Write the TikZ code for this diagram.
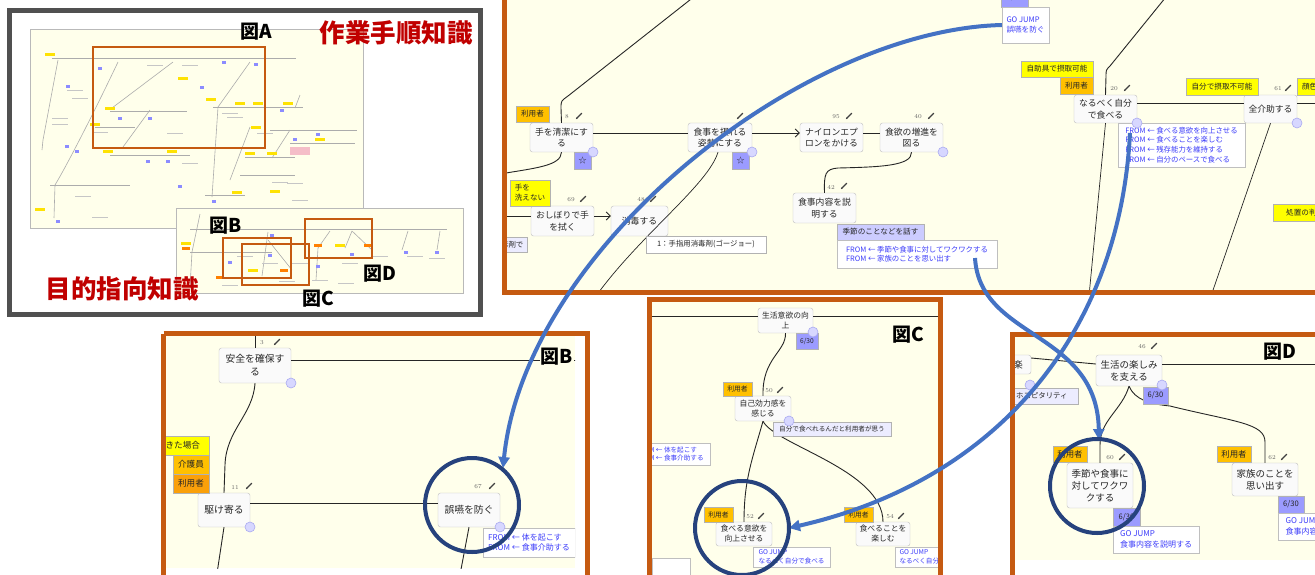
\documentclass[tikz,border=0pt]{standalone}
\usepackage{fontspec}
\newfontfamily\jp{Noto Sans CJK JP}
\usetikzlibrary{arrows.meta}
\definecolor{panelor}{RGB}{197,90,17}
\definecolor{tlgray}{RGB}{80,80,80}
\definecolor{bgy}{RGB}{255,255,235}
\definecolor{tagyel}{RGB}{255,255,0}
\definecolor{tagor}{RGB}{255,192,0}
\definecolor{tagor2}{RGB}{250,160,10}
\definecolor{lav}{RGB}{204,204,255}
\definecolor{lavl}{RGB}{236,236,255}
\definecolor{bluebox}{RGB}{155,155,255}
\definecolor{fromblue}{RGB}{60,60,250}
\definecolor{arrowblue}{RGB}{68,114,196}
\definecolor{navy}{RGB}{38,66,125}
\definecolor{redlbl}{RGB}{192,0,0}
\definecolor{knobf}{RGB}{215,215,255}
\definecolor{knobd}{RGB}{170,170,240}
\definecolor{pinkbox}{RGB}{245,190,200}
\newcommand\mybox[7]{\node[#1, minimum width={((#5)-(#3))*1pt}, minimum height={((#6)-(#4))*1pt}] (#2) at ({((#3)+(#5))/2},{((#4)+(#6))/2}) {#7};}
\newcommand\knob[1]{\draw[draw=knobd, fill=knobf, line width=0.6pt] #1 circle (5);}
\newcommand\numpen[4]{\node[num] at (#1,#2) {#3}; \pic at ({#1+#4},{#2-1}) {pencil};}
\tikzset{
 gbase/.style={draw=gray!50, fill=gray!4, rounded corners=2.5pt, align=center, inner sep=0.5pt, text=black!85},
 gA/.style={gbase, font=\jp\fontsize{8.8}{11.5}\selectfont},
 gB/.style={gbase, font=\jp\fontsize{9.8}{13}\selectfont},
 gC/.style={gbase, font=\jp\fontsize{7.8}{10}\selectfont},
 gD/.style={gbase, font=\jp\fontsize{9.5}{12}\selectfont},
 tg/.style={draw=gray!60, inner sep=0.5pt, align=center, text=black!85, font=\jp\fontsize{#1}{1.2\dimexpr#1pt\relax}\selectfont},
 tg/.default=7.6,
 bb/.style={tg=#1, fill=bluebox},
 bb/.default=6.8,
 fromb/.style={draw=gray!50, fill=white, inner sep=1.5pt, align=left, text=fromblue, font=\jp\fontsize{#1}{1.3\dimexpr#1pt\relax}\selectfont},
 fromb/.default=7.4,
 num/.style={font=\fontsize{6}{6}\selectfont, text=black!60, inner sep=0pt},
 conn/.style={draw=black!85, line width=0.9pt},
 thin/.style={draw=black!85, line width=0.7pt},
 barrow/.style={draw=arrowblue, line width=4pt, -{Triangle[length=11pt,width=11pt]}},
 ring/.style={draw=navy, line width=4pt},
 fig/.style={font=\jp\bfseries\fontsize{19}{19}\selectfont, text=black, inner sep=0pt},
 bigred/.style={font=\jp\bfseries\fontsize{25.5}{26}\selectfont, text=redlbl, inner sep=0pt},
 pencil/.pic={\draw[black!75, line width=1.3pt] (-1.8,1.8)--(2.8,-2.8); \fill[black!75] (-3.2,3.2)--(-2.6,1.2)--(-1.2,2.6)--cycle;}
}
\begin{document}
\begin{tikzpicture}[x=1pt,y=-1pt]
\useasboundingbox (0,0) rectangle (1315,574);
\fill[white] (0,0) rectangle (1315,574);

%================ top-left overview panel ================
\fill[white] (9.5,10.5) rectangle (480.5,314.5);
\draw[gray!55, fill=bgy, line width=0.6pt] (30,29) rectangle (363,228);
\begin{scope}[gray!65, line width=0.6pt]
 \draw (52,58)--(296,58);
 \draw (58,60)--(43,140)--(42,150);
 \draw (118,62) .. controls (100,100) and (70,160) .. (55,185)--(54,218);
 \draw (173,62)--(112,108);
 \draw (250,62)--(218,107)--(212,197);
 \draw (250,127)--(230,180);
 \draw (150,110)--(123,147);
 \draw (110,111)--(187,111);
 \draw (95,127)--(135,127);
 \draw (213,107)--(303,107);
 \draw (270,130)--(357,130);
 \draw (290,143)--(355,143);
 \draw (290,130)--(272,158);
 \draw (110,155)--(190,155);
 \draw (245,157)--(295,157);
 \draw (240,175)--(295,175);
 \draw (50,185)--(130,185);
 \draw (205,195)--(245,195);
 \draw (295,108)--(300,95);
\end{scope}
\foreach \x/\y in {50/54,183/78,211/99,240/103,258/103,288/103,110/108,95/124,108/151,172/151,250/153,272/153,256/127,275/191,40/209,237/192,320/139}
 \fill[yellow!85!orange] (\x-5,\y-1.5) rectangle (\x+5,\y+1.5);
\foreach \x/\y in {100/68,68/86,67/146,77/151,120/118,150/118,202/87,224/62,256/64,282/110,295/139,148/161,168/161,180/186,214/201,58/221,318/134}
 \fill[blue!45] (\x-2,\y-1.5) rectangle (\x+2,\y+1.5);
\foreach \x/\y in {75/90,80/98,60/118,60/124,155/65,190/65,100/132,175/133,230/113,235/117,190/163,280/182,295/183,300/200,83/196,100/217,265/133,245/213,196/211}
 \draw[gray!45, line width=0.5pt] (\x-8,\y) -- (\x+8,\y);
\fill[pinkbox] (290,147) rectangle (310,155);
\draw[gray!55, fill=bgy, line width=0.6pt] (176,208) rectangle (463,293);
\begin{scope}[gray!65, line width=0.6pt]
 \draw (190,229)--(447,229);
 \draw (190,252)--(272,252);
 \draw (200,214)--(192,252)--(190,287);
 \draw (268,232)--(262,276);
 \draw (268,240)--(292,270);
 \draw (330,231)--(318,248)--(316,280);
 \draw (352,231)--(345,248);
 \draw (352,231)--(372,250);
 \draw (408,231)--(402,250);
 \draw (440,231)--(437,250);
\end{scope}
\foreach \x/\y in {186/243,340/245,253/270}
 \fill[yellow!85!orange] (\x-5,\y-1.5) rectangle (\x+5,\y+1.5);
\foreach \x/\y in {186/248,220/277,318/245,368/245,284/270}
 \fill[orange] (\x-4,\y-1.5) rectangle (\x+4,\y+1.5);
\foreach \x/\y in {272/235,270/255,318/266,352/254,406/252,437/252,230/262}
 \fill[blue!45] (\x-2,\y-1.5) rectangle (\x+2,\y+1.5);
\foreach \x/\y in {245/256,270/263,300/263,350/263,380/256,415/256,437/258,287/281,320/280,230/285,346/283}
 \draw[gray!45, line width=0.5pt] (\x-8,\y) -- (\x+8,\y);
\begin{scope}[panelor, line width=2.6pt]
 \draw (93,47) rectangle (265,148);
 \draw (223,238) rectangle (291,278);
 \draw (242,244) rectangle (309,285);
 \draw (305,219) rectangle (372,258);
\end{scope}
\node[fig] (tA) at (256,32) {図A};
\node[fig] (tB) at (226,226) {図B};
\node[fig] (tC) at (318,299) {図C};
\node[fig] (tD) at (380,274) {図D};
\node[bigred] (t1) at (396,33) {作業手順知識};
\node[bigred] (t2) at (122,289) {目的指向知識};
\draw[tlgray, line width=5pt] (9.5,10.5) rectangle (480.5,314.5);

%================ panel A ================
\begin{scope}
\clip (504.5,-10) rectangle (1330,292.5);
\fill[bgy] (504.5,-10) rectangle (1330,292.5);
\mybox{gA}{n8}{530}{123}{593}{152}{手を清潔にす\\る}
\mybox{gA}{n9}{688}{123}{752}{152}{食事を摂れる\\姿勢にする}
\mybox{gA}{n95}{800}{123}{863}{152}{ナイロンエプ\\ロンをかける}
\mybox{gA}{n40}{880}{123}{943}{152}{食欲の増進を\\図る}
\mybox{gA}{n42}{793}{193}{856}{223}{食事内容を説\\明する}
\mybox{gA}{n69}{531}{206}{594}{236}{おしぼりで手\\を拭く}
\mybox{gA}{n48}{611}{206}{668}{236}{消毒する}
\mybox{gA}{n20}{1074}{95}{1137}{123}{なるべく自分\\で食べる}
\mybox{gA}{n61}{1244}{95}{1297}{123}{全介助する}
\coordinate (a1) at (700,-8);
\coordinate (a2) at (500,174);
\coordinate (a3) at (500,216);
\coordinate (a4) at (596,296);
\coordinate (a5) at (1170,-8);
\coordinate (a6) at (1330,103);
\coordinate (a7) at (1089,296);
\coordinate (a8) at (1211,296);
\draw[conn] (n8.north) -- (561,108) .. controls (561,101) .. (568,96) -- (a1);
\draw[conn] ([yshift=4.5pt]n8.east) -- ([yshift=4.5pt]n9.west);
\draw[conn, -{Straight Barb[length=4pt,width=8pt]}] ([yshift=4.5pt]n9.east) -- ([yshift=4.5pt]n95.west);
\draw[conn] ([yshift=4.5pt]n95.east) -- ([yshift=4.5pt]n40.west);
\draw[conn] (n40.south) .. controls (912,166) and (880,167) .. (838,168) .. controls (825,169) and (824,174) .. (n42.north);
\draw[conn] (n8.south) .. controls (561,166) and (535,168) .. (a2);
\draw[conn] (a3) -- ([yshift=5pt]n69.west);
\draw[conn, -{Straight Barb[length=4pt,width=8pt]}] ([yshift=5pt]n69.east) -- ([yshift=5pt]n48.west);
\draw[thin] ([xshift=-2pt]n9.south) .. controls (708,185) and (640,235) .. (a4);
\draw[conn] (n20.north) -- (1106,76) .. controls (1106,70) .. (1110,66) -- (a5);
\draw[conn] ([yshift=6pt]n20.east) -- ([yshift=6pt]n61.west);
\draw[conn] ([yshift=6pt]n61.east) -- (a6);
\draw[thin] (n20.south) -- (a7);
\draw[thin] (n61.south) -- (a8);
% tags and boxes
\mybox{tg,fill=tagor}{ta1}{516}{106}{549}{122}{利用者}
\mybox{tg,fill=tagyel,align=left}{ta2}{510}{180}{550}{206}{手を\\[1pt]洗えない}
\mybox{tg,fill=tagyel}{ta3}{1021}{61}{1093}{77}{自助具で摂取可能}
\mybox{tg,fill=tagor}{ta4}{1060}{77}{1093}{94}{利用者}
\mybox{tg,fill=tagyel}{ta5}{1186}{78}{1258}{95}{自分で摂取不可能}
\mybox{tg,fill=tagyel}{ta6}{1297}{78}{1345}{95}{顔色の変化}
\mybox{tg,fill=tagyel}{ta7}{1273}{204}{1345}{221}{処置の判断が}
\mybox{bb=8}{st1}{574}{152}{591}{169}{☆}
\mybox{bb=8}{st2}{732}{152}{749}{169}{☆}
\mybox{tg=7.6,fill=lav}{ka}{837}{224}{924}{240}{季節のことなどを話す}
\mybox{fromb}{fa}{837}{240}{997}{268}{FROM ← 季節や食事に対してワクワクする\\FROM ← 家族のことを思い出す}
\mybox{tg=7.4,fill=white}{sh}{646}{236}{766}{253}{1：手指用消毒剤(ゴージョー)}
\mybox{tg=7.4,fill=lavl}{zd}{490}{237}{527}{252}{消毒剤で}
\mybox{bb}{gjt}{1001}{-12}{1028}{7}{6/30}
\mybox{fromb=7.6}{gjA}{1002}{7}{1049}{43}{GO JUMP\\誤嚥を防ぐ}
\mybox{fromb}{fb}{1118}{123}{1245}{167}{FROM ← 食べる意欲を向上させる\\FROM ← 食べることを楽しむ\\FROM ← 残存能力を維持する\\FROM ← 自分のペースで食べる}
\knob{(593,152)} \knob{(752,152)} \knob{(943,152)} \knob{(1137,123)} \knob{(1297,123)}
\numpen{567}{117}{8}{12}
\pic at (740,116) {pencil};
\numpen{836}{117}{95}{13}
\numpen{918}{117}{40}{13}
\numpen{831}{187}{42}{13}
\numpen{571}{200}{69}{12}
\numpen{641}{200}{48}{12}
\numpen{1114}{89}{20}{13}
\numpen{1278}{89}{61}{10}
\end{scope}
\draw[panelor, line width=5pt] (504.5,-10) rectangle (1330,292.5);

%================ panel B ================
\fill[white] (163.5,333.5) rectangle (587.5,590);
\begin{scope}
\clip (166,336) rectangle (575,568);
\fill[bgy] (166,336) rectangle (575,568);
\mybox{gB}{n3}{219}{348}{291}{383}{安全を確保す\\る}
\mybox{gB}{n11}{198}{493}{250}{527}{駆け寄る}
\mybox{gB}{n67}{438}{493}{500}{527}{誤嚥を防ぐ}
\coordinate (b1) at (255,330);
\coordinate (b2) at (590,360);
\coordinate (b3) at (216,580);
\coordinate (b4) at (459,580);
\draw[conn] (b1) -- (n3.north);
\draw[conn] ([yshift=5.5pt]n3.east) -- (b2);
\draw[conn] (n3.south) .. controls (253,415) and (226,430) .. (225,465) -- (n11.north);
\draw[conn] ([yshift=7pt]n11.east) -- ([yshift=7pt]n67.west);
\draw[conn] (n11.south) -- (b3);
\draw[conn] (n67.south) -- (b4);
\mybox{tg=8.6,fill=tagyel}{tb1}{148}{436}{209}{455}{起きた場合}
\mybox{tg=8.6,fill=tagor}{tb2}{173}{455}{209}{474}{介護員}
\mybox{tg=8.6,fill=tagor2}{tb3}{173}{474}{209}{493}{利用者}
\mybox{fromb=8}{fbb}{483}{528}{575}{557}{FROM ← 体を起こす\\FROM ← 食事介助する}
\knob{(291,383)} \knob{(250,527)} \knob{(500,527)}
\numpen{262}{343}{3}{15}
\numpen{235}{487}{11}{14}
\numpen{478}{487}{67}{14}
\node[fig, fill=bgy, inner sep=1pt] (lb) at (557,357) {図B};
\end{scope}
\draw[panelor, line width=5pt] (163.5,333.5) -- (163.5,590) (163.5,333.5) -- (587.5,333.5) -- (587.5,590);

%================ panel C ================
\begin{scope}
\clip (649.5,299) rectangle (940,590);
\fill[bgy] (649.5,299) rectangle (940,590);
\mybox{gC}{nL}{758}{308}{813}{333}{生活意欲の向\\上}
\mybox{gC}{n50}{735}{396}{791}{421}{自己効力感を\\感じる}
\mybox{gC}{n52}{716}{522}{772}{546}{食べる意欲を\\向上させる}
\mybox{gC}{n54}{856}{522}{910}{546}{食べることを\\楽しむ}
\coordinate (c1) at (645,316);
\coordinate (c2) at (945,316);
\draw[conn] (c1) -- ([yshift=4.5pt]nL.west);
\draw[conn] ([yshift=4.5pt]nL.east) -- (c2);
\draw[conn] (nL.south) .. controls (786,352) and (762,358) .. (n50.north);
\draw[conn] (n50.south) .. controls (752,460) and (744,480) .. (n52.north);
\draw[conn] (n50.south) .. controls (775,445) and (883,470) .. (n54.north);
\mybox{bb=6.6}{c630}{796}{333}{818}{349}{6/30}
\mybox{tg=6.6,fill=lavl}{cq}{773}{422}{891}{436}{自分で食べれるんだと利用者が思う}
\mybox{fromb=6.6}{cfb}{630}{443}{710}{465}{FROM ← 体を起こす\\FROM ← 食事介助する}
\mybox{fromb=6.6}{cg1}{753}{547}{830}{567}{GO JUMP\\なるべく自分で食べる}
\mybox{fromb=6.6,align=left}{cg2}{895}{547}{970}{567}{GO JUMP\\なるべく自分で食べる}
\mybox{tg=6.8,fill=tagor}{tc1}{723}{382}{752}{396}{利用者}
\mybox{tg=6.8,fill=tagor}{tc2}{704}{507}{733}{522}{利用者}
\mybox{tg=6.8,fill=tagor}{tc3}{844}{507}{873}{522}{利用者}
\draw[gray!50, fill=white] (652,558) rectangle (690,578);
\knob{(813,332)} \knob{(789,421)}
\numpen{769}{391}{50}{11}
\numpen{750}{517}{52}{11}
\numpen{890}{517}{54}{11}
\node[fig] (lc) at (908,335) {図C};
\end{scope}
\draw[panelor, line width=5pt] (649.5,299) rectangle (940,590);

%================ panel D ================
\fill[white] (1012,334.5) rectangle (1330,590);
\begin{scope}
\clip (1012,334.5) rectangle (1330,560);
\fill[bgy] (1012,334.5) rectangle (1330,560);
\mybox{gD}{n46}{1096}{355}{1162}{386}{生活の楽しみ\\を支える}
\mybox{gD}{nq}{1005}{355}{1031}{374}{楽}
\mybox{gD}{n60}{1067}{463}{1133}{508}{季節や食事に\\対してワクワ\\クする}
\mybox{gD}{n62}{1232}{463}{1298}{496}{家族のことを\\思い出す}
\coordinate (d2) at (1330,364);
\draw[conn] ([yshift=6.5pt]nq.east) -- ([yshift=6.5pt]n46.west);
\draw[conn] ([yshift=6.5pt]n46.east) -- (d2);
\draw[conn] (n46.south) .. controls (1122,410) and (1100,420) .. (1100,445) -- (n60.north);
\draw[conn] (n46.south) .. controls (1135,400) and (1150,404) .. (1170,406) .. controls (1235,422) and (1265,423) .. (1265,442) -- (n62.north);
\mybox{tg=7.2,fill=lavl}{hos}{1000}{388}{1078}{404}{}
\node[font=\jp\fontsize{7.4}{8}\selectfont, text=black!85, anchor=west, inner sep=0pt] (host) at (1016,396) {ホスピタリティ};
\mybox{bb=7.6}{d630a}{1143}{387}{1168}{404}{6/30}
\mybox{bb=7.6}{d630b}{1113}{508}{1140}{526}{6/30}
\mybox{bb=7.6}{d630c}{1278}{496}{1304}{513}{6/30}
\mybox{fromb=8}{dg1}{1113}{526}{1199}{553}{GO JUMP\\食事内容を説明する}
\mybox{fromb=8}{dg2}{1278}{513}{1365}{540}{GO JUMP\\食事内容を説明する}
\mybox{tg=8.4,fill=tagor}{td1}{1053}{446}{1087}{462}{利用者}
\mybox{tg=8.4,fill=tagor}{td2}{1217}{446}{1251}{462}{利用者}
\knob{(1030,385)} \knob{(1162,385)}
\numpen{1142}{347}{46}{12}
\numpen{1110}{458}{60}{12}
\numpen{1272}{458}{62}{12}
\node[fig, fill=bgy, inner sep=1pt] (ld) at (1280,352) {図D};
\end{scope}
\draw[panelor, line width=5pt] (1012,590) -- (1012,334.5) -- (1330,334.5);

%================ blue arrows and rings ================
\coordinate (bt1) at (503,468);
\coordinate (fa2) at (975,258);
\coordinate (bt2) at (1099,440);
\coordinate (fa3) at (1130,133);
\coordinate (bt3) at (789,528);
\draw[barrow] (gjA.west) .. controls (800,30) and (525,250) .. (bt1);
\draw[barrow] (fa2) .. controls (980,340) and (1097,330) .. (bt2);
\draw[barrow] (fa3) .. controls (1120,330) and (1000,480) .. (bt3);
\draw[ring] (472,505) circle (47);
\draw[ring] (742,528) circle (47);
\draw[ring] (1097,486) circle (47);
\end{tikzpicture}
\end{document}
